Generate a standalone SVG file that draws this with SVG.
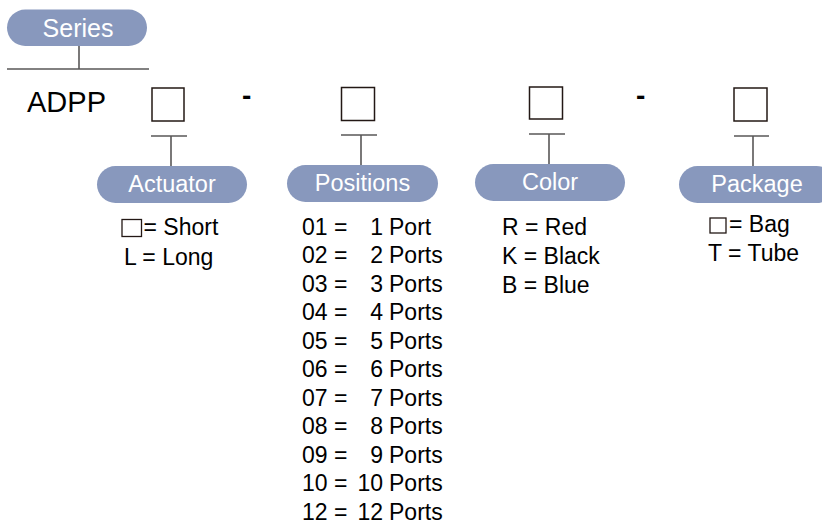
<svg xmlns="http://www.w3.org/2000/svg" width="822" height="525" viewBox="0 0 822 525">
<style>
.pill{fill:#8898bd}
.pt{font-family:"Liberation Sans",Arial,sans-serif;font-size:23.5px;fill:#ffffff;text-anchor:middle}
.ln{stroke:#595757;stroke-width:1.6;fill:none}
.box{fill:#ffffff;stroke:#231815;stroke-width:1.5}
.t{font-family:"Liberation Sans",Arial,sans-serif;font-size:23px;fill:#000000}
.te{font-family:"Liberation Sans",Arial,sans-serif;font-size:23px;fill:#000000;text-anchor:end}
.dash{font-family:"Liberation Sans",Arial,sans-serif;font-size:28px;font-weight:bold;fill:#000000}
.sq{fill:#ffffff;stroke:#231815;stroke-width:1.3}
</style>
<rect width="822" height="525" fill="#ffffff"/>

<g id="connectors">
  <line class="ln" x1="79" y1="46" x2="79" y2="69"/>
  <line class="ln" x1="7" y1="69" x2="149" y2="69"/>
  <line class="ln" x1="151" y1="136" x2="187" y2="136"/>
  <line class="ln" x1="171" y1="136" x2="171" y2="166"/>
  <line class="ln" x1="341" y1="135" x2="377" y2="135"/>
  <line class="ln" x1="361" y1="135" x2="361" y2="165"/>
  <line class="ln" x1="529" y1="134" x2="565" y2="134"/>
  <line class="ln" x1="549" y1="134" x2="549" y2="164"/>
  <line class="ln" x1="734" y1="136" x2="769" y2="136"/>
  <line class="ln" x1="753" y1="136" x2="753" y2="166"/>
</g>

<g id="series">
  <rect class="pill" x="7" y="9.5" width="140" height="36.5" rx="18.25"/>
  <text class="pt" x="78" y="37" style="font-size:25px">Series</text>
</g>

<g id="code">
  <text class="t" x="27" y="112" style="font-size:29px">ADPP</text>
  <rect class="box" x="152" y="88" width="32" height="33"/>
  <text class="dash" x="242" y="105">-</text>
  <rect class="box" x="341.5" y="87.5" width="33" height="33"/>
  <rect class="box" x="529.5" y="87" width="33" height="32"/>
  <text class="dash" x="636" y="105">-</text>
  <rect class="box" x="734" y="88" width="33" height="33"/>
</g>

<g id="actuator">
  <rect class="pill" x="97" y="166" width="150" height="37" rx="18.5"/>
  <text class="pt" x="172" y="192">Actuator</text>
  <rect class="sq" x="122" y="219.5" width="19.5" height="17"/>
  <text class="t" x="143.5" y="235">= Short</text>
  <text class="t" x="124" y="264.5">L = Long</text>
</g>

<g id="positions">
  <rect class="pill" x="287" y="165" width="151" height="37" rx="18.5"/>
  <text class="pt" x="362.5" y="191">Positions</text>
  <g>
    <text class="t" x="302" y="234.5">01 =</text><text class="te" x="383" y="234.5">1</text><text class="t" x="389" y="234.5">Port</text>
    <text class="t" x="302" y="263">02 =</text><text class="te" x="383" y="263">2</text><text class="t" x="389" y="263">Ports</text>
    <text class="t" x="302" y="291.5">03 =</text><text class="te" x="383" y="291.5">3</text><text class="t" x="389" y="291.5">Ports</text>
    <text class="t" x="302" y="320">04 =</text><text class="te" x="383" y="320">4</text><text class="t" x="389" y="320">Ports</text>
    <text class="t" x="302" y="348.5">05 =</text><text class="te" x="383" y="348.5">5</text><text class="t" x="389" y="348.5">Ports</text>
    <text class="t" x="302" y="377">06 =</text><text class="te" x="383" y="377">6</text><text class="t" x="389" y="377">Ports</text>
    <text class="t" x="302" y="405.5">07 =</text><text class="te" x="383" y="405.5">7</text><text class="t" x="389" y="405.5">Ports</text>
    <text class="t" x="302" y="434">08 =</text><text class="te" x="383" y="434">8</text><text class="t" x="389" y="434">Ports</text>
    <text class="t" x="302" y="462.5">09 =</text><text class="te" x="383" y="462.5">9</text><text class="t" x="389" y="462.5">Ports</text>
    <text class="t" x="302" y="491">10 =</text><text class="te" x="383" y="491">10</text><text class="t" x="389" y="491">Ports</text>
    <text class="t" x="302" y="519.5">12 =</text><text class="te" x="383" y="519.5">12</text><text class="t" x="389" y="519.5">Ports</text>
  </g>
</g>

<g id="color">
  <rect class="pill" x="475" y="164" width="150" height="37" rx="18.5"/>
  <text class="pt" x="550" y="190">Color</text>
  <text class="t" x="502" y="235">R = Red</text>
  <text class="t" x="502" y="264">K = Black</text>
  <text class="t" x="502" y="292.5">B = Blue</text>
</g>

<g id="package">
  <rect class="pill" x="679" y="166" width="156" height="37" rx="18.5"/>
  <text class="pt" x="757" y="192">Package</text>
  <rect class="sq" x="710" y="218" width="16" height="15"/>
  <text class="t" x="729" y="232">= Bag</text>
  <text class="t" x="708" y="261">T = Tube</text>
</g>
</svg>
